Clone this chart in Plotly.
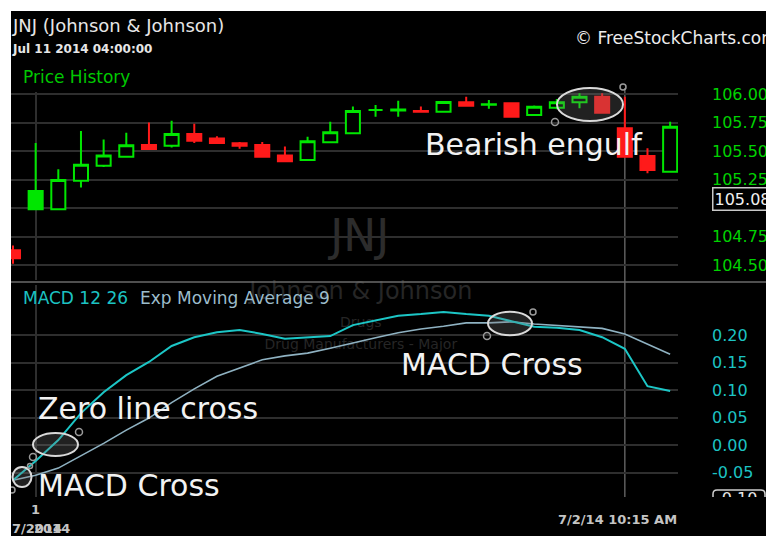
import plotly.graph_objects as go

# The page body has an 8px white margin; the figure is laid out in the
# reference's pixel coordinates and shifted by that margin.
OFF = 8
W, H = 774 - OFF, 536 - OFF
FONT = "DejaVu Sans"

# ---------------- data ----------------
candle_index = list(range(30))
opens = [104.63, 105.15, 104.99, 105.24, 105.37, 105.45, 105.553, 105.546, 105.65, 105.61,
         105.567, 105.553, 105.46, 105.42, 105.576, 105.655, 105.86, 105.855, 105.85, 105.845,
         105.927, 105.905, 105.918, 105.816, 105.88, 105.927, 105.976, 105.70, 105.456, 105.318]
highs = [104.67, 105.57, 105.34, 105.675, 105.60, 105.66, 105.75, 105.766, 105.74, 105.63,
         105.58, 105.58, 105.54, 105.625, 105.757, 105.89, 105.904, 105.94, 105.89, 105.935,
         105.976, 105.947, 105.927, 105.90, 105.956, 106.006, 106.006, 105.976, 105.524, 105.757]
lows = [104.51, 104.99, 104.98, 105.18, 105.36, 105.45, 105.518, 105.53, 105.57, 105.57,
        105.52, 105.45, 105.41, 105.42, 105.576, 105.655, 105.80, 105.80, 105.845, 105.845,
        105.897, 105.87, 105.80, 105.816, 105.866, 105.875, 105.836, 105.45, 105.304, 105.318]
closes = [104.56, 104.99, 105.245, 105.38, 105.46, 105.55, 105.518, 105.65, 105.59, 105.57,
          105.547, 105.45, 105.41, 105.585, 105.664, 105.85, 105.86, 105.865, 105.845, 105.93,
          105.897, 105.91, 105.80, 105.889, 105.927, 105.976, 105.836, 105.45, 105.333, 105.713]
prior_close = 104.70

macd = [-0.064, -0.029, 0.009, 0.058, 0.096, 0.127, 0.151, 0.180, 0.196, 0.205,
        0.209, 0.202, 0.193, 0.195, 0.198, 0.218, 0.227, 0.235, 0.238, 0.242,
        0.238, 0.235, 0.225, 0.215, 0.213, 0.209, 0.196, 0.175, 0.107, 0.098]
signal = [-0.064, -0.055, -0.042, -0.020, 0.003, 0.027, 0.049, 0.077, 0.102, 0.125,
          0.140, 0.155, 0.162, 0.167, 0.176, 0.186, 0.195, 0.204, 0.211, 0.216,
          0.222, 0.222, 0.224, 0.220, 0.217, 0.214, 0.212, 0.202, 0.184, 0.165]

price_ticks = [104.50, 104.75, 105.00, 105.25, 105.50, 105.75, 106.00]
price_tick_text = ["104.50", "104.75", "", "105.25", "105.50", "105.75", "106.00"]
macd_ticks = [-0.05, 0.00, 0.05, 0.10, 0.15, 0.20]
macd_tick_text = ["-0.05", "0.00", "0.05", "0.10", "0.15", "0.20"]
last_price = 105.08
macd_cursor = -0.10
cursor_index = 27
day_break_index = 1

# ---------------- helpers (reference pixels -> paper) ----------------
def px(x):
    return (x - OFF) / W

def py(y):
    return 1 - (y - OFF) / H

X_LEFT, X_RIGHT = 11, 678
STEP, X0PX = 22.66, 13
x_range = [(X_LEFT - X0PX) / STEP, (X_RIGHT - X0PX) / STEP]
price_range = [106 - (280 - 94) / 114, 106 + 2 / 114]
macd_range = [(445 - 497) / 550, (445 - 285) / 550]

GREEN = "#00e600"
RED = "#ff1a1a"

fig = go.Figure()

# watermark (drawn first so the data sits on top)
fig.add_trace(go.Scatter(x=[15.3], y=[104.72], mode="text", text=["JNJ"],
                         textfont=dict(family=FONT, size=44, color="#2c2c2c"),
                         xaxis="x", yaxis="y", cliponaxis=False, hoverinfo="skip"))
fig.add_trace(go.Scatter(x=[15.35, 15.35, 15.35], y=[0.2764, 0.2218, 0.1818], mode="text",
                         text=["Johnson & Johnson", "Drugs", "Drug Manufacturers - Major"],
                         textfont=dict(family=FONT, size=[24, 14, 14], color="#262626"),
                         xaxis="x2", yaxis="y2", cliponaxis=False, hoverinfo="skip"))

# candle styles: colour from previous close, fill from open/close
prev = [prior_close] + closes[:-1]
groups = {}
for i in candle_index:
    col = GREEN if closes[i] >= prev[i] else RED
    filled = closes[i] < opens[i]
    groups.setdefault((col, filled), []).append(i)

for (col, filled), idx in groups.items():
    fill = col if filled else "#000000"
    style = dict(line=dict(color=col, width=2), fillcolor=fill)
    fig.add_trace(go.Candlestick(
        x=idx, open=[opens[i] for i in idx], high=[highs[i] for i in idx],
        low=[lows[i] for i in idx], close=[closes[i] for i in idx],
        increasing=style, decreasing=style, whiskerwidth=0,
        xaxis="x", yaxis="y", hoverinfo="skip", showlegend=False))

fig.add_trace(go.Scatter(x=candle_index, y=signal, mode="lines",
                         line=dict(color="#8fb2c2", width=1.6),
                         xaxis="x2", yaxis="y2", hoverinfo="skip"))
fig.add_trace(go.Scatter(x=candle_index, y=macd, mode="lines",
                         line=dict(color="#1cc6c6", width=2),
                         xaxis="x2", yaxis="y2", hoverinfo="skip"))

# partially hidden MACD cursor label (clipped by its own little subplot)
cursor_y_px = 445 - macd_cursor * 550
fig.add_trace(go.Scatter(x=[716], y=[cursor_y_px], mode="text", text=["%.2f" % macd_cursor],
                         textposition="middle right",
                         textfont=dict(family=FONT, size=16, color="#e6e6e6"),
                         xaxis="x3", yaxis="y3", cliponaxis=True, hoverinfo="skip"))

axis_common = dict(showline=False, zeroline=False, ticks="", automargin=False)
fig.update_layout(
    width=W, height=H, autosize=False,
    margin=dict(l=0, r=0, t=0, b=0, pad=0, autoexpand=False),
    paper_bgcolor="#000000", plot_bgcolor="rgba(0,0,0,0)",
    showlegend=False, hovermode=False, boxgap=0.38, boxgroupgap=0,
    font=dict(family=FONT),
    xaxis=dict(domain=[px(X_LEFT), px(X_RIGHT)], range=x_range, anchor="y",
               rangeslider=dict(visible=False), showticklabels=False,
               tickmode="array", tickvals=[day_break_index], showgrid=True,
               gridcolor="#2e2e2e", gridwidth=1.5, **axis_common),
    yaxis=dict(domain=[py(280), py(92)], range=price_range, anchor="x", side="right",
               tickmode="array", tickvals=price_ticks, ticktext=price_tick_text,
               tickfont=dict(family=FONT, size=16, color="#00d200"),
               ticklabelstandoff=33, showgrid=True, gridcolor="#2e2e2e", gridwidth=1.5,
               **axis_common),
    xaxis2=dict(domain=[px(X_LEFT), px(X_RIGHT)], range=x_range, anchor="y2",
                showticklabels=False, tickmode="array", tickvals=[day_break_index],
                showgrid=True, gridcolor="#2e2e2e", gridwidth=1.5, **axis_common),
    yaxis2=dict(domain=[py(497), py(285)], range=macd_range, anchor="x2", side="right",
                tickmode="array", tickvals=macd_ticks, ticktext=macd_tick_text,
                tickfont=dict(family=FONT, size=16, color="#1cc3c3"),
                ticklabelstandoff=33, showgrid=True, gridcolor="#2e2e2e", gridwidth=1.5,
                **axis_common),
    xaxis3=dict(domain=[px(706), 1], range=[706, 774], anchor="y3", visible=False,
                automargin=False),
    yaxis3=dict(domain=[py(497), py(285)], range=[497, 285], anchor="x3", visible=False,
                automargin=False),
)

shapes = []
# crosshair / cursor vertical line
shapes.append(dict(type="line", xref="x", yref="paper", x0=cursor_index, x1=cursor_index,
                   y0=py(497), y1=py(88), line=dict(color="#5e5e5e", width=1.5), layer="below"))
# panel divider
shapes.append(dict(type="line", xref="paper", yref="paper", x0=px(11), x1=1, y0=py(282), y1=py(282),
                   line=dict(color="#6a6a6a", width=1.5)))
# dashed zero line
shapes.append(dict(type="line", xref="paper", yref="y2", x0=px(X_LEFT), x1=px(X_RIGHT), y0=0, y1=0,
                   line=dict(color="#a8a8a8", width=1.5, dash="10px,7px"), layer="below"))
# cut box of cursor label
shapes.append(dict(type="path", xref="x3", yref="y3",
                   path="M 713 512 L 713 494 Q 713 490 717 490 L 761 490 Q 765 490 765 494 L 765 512",
                   line=dict(color="#cfcfcf", width=1.5)))

# highlight ellipses
for cx, cy, rx, ry in [(590, 104.5, 33, 16.5), (510, 323.5, 22, 11.7),
                       (55.5, 444.5, 22.5, 11.5), (22, 477, 9.5, 10)]:
    shapes.append(dict(type="circle", xref="paper", yref="paper",
                       x0=px(cx - rx), x1=px(cx + rx), y0=py(cy + ry), y1=py(cy - ry),
                       line=dict(color="#d9d9d9", width=2), fillcolor="rgba(120,120,120,0.28)"))
# small "thought bubble" circles
for cx, cy, r in [(555, 122, 3.5), (623, 87, 3), (487, 336, 3.5), (533, 312, 3),
                  (79, 432, 3.5), (33, 457, 3.5), (30, 466, 2.5), (12, 490, 3)]:
    shapes.append(dict(type="circle", xref="paper", yref="paper",
                       x0=px(cx - r), x1=px(cx + r), y0=py(cy + r), y1=py(cy - r),
                       line=dict(color="#9a9a9a", width=1.5)))
# white frame strips (the rest of the white border is the page margin)
shapes.append(dict(type="rect", xref="paper", yref="paper", x0=0, x1=1, y0=py(11), y1=1,
                   fillcolor="white", line=dict(width=0), layer="above"))
shapes.append(dict(type="rect", xref="paper", yref="paper", x0=0, x1=px(11), y0=0, y1=1,
                   fillcolor="white", line=dict(width=0), layer="above"))
fig.update_layout(shapes=shapes)

def note(text, x, y, size, color, anchor="left", yref="paper", bold=False, **kw):
    t = "<b>%s</b>" % text if bold else text
    return dict(text=t, x=px(x), y=(py(y) if yref == "paper" else y), xref="paper", yref=yref,
                xanchor=anchor, yanchor="middle", showarrow=False,
                font=dict(family=FONT, size=size, color=color), **kw)

annotations = [
    note("JNJ (Johnson &amp; Johnson)", 10, 25, 18, "#e6e6e6"),
    note("Jul 11 2014 04:00:00", 10, 49, 12, "#e6e6e6", bold=True),
    note("Price History", 21, 77, 17, "#00c800"),
    note("© FreeStockCharts.com", 573, 38, 17, "#ececec"),
    note("MACD 12 26", 21, 298, 17, "#1cc3c3"),
    note("Exp Moving Average 9", 138, 298, 17, "#9cbccb"),
    note("%.2f" % last_price, 712, last_price, 16, "#f0f0f0", yref="y",
         bordercolor="#c8c8c8", borderwidth=1.5, borderpad=1, bgcolor="#000000"),
    note("Bearish engulf", 423, 144, 30, "#f2f2f2"),
    note("MACD Cross", 399, 364, 30, "#f2f2f2"),
    note("Zero line cross", 36, 408, 30, "#f2f2f2"),
    note("MACD Cross", 36, 485, 30, "#f2f2f2"),
    note("7/2/14 10:15 AM", 556, 519, 13, "#c4c4c4", bold=True),
    note("1", 29, 509, 13, "#c4c4c4", bold=True),
    note("7/2014", 10, 528, 13, "#c4c4c4", bold=True),
    note("2014", 32, 528, 13, "#c4c4c4", bold=True),
]
fig.update_layout(annotations=annotations)

fig.write_html("out.html")
